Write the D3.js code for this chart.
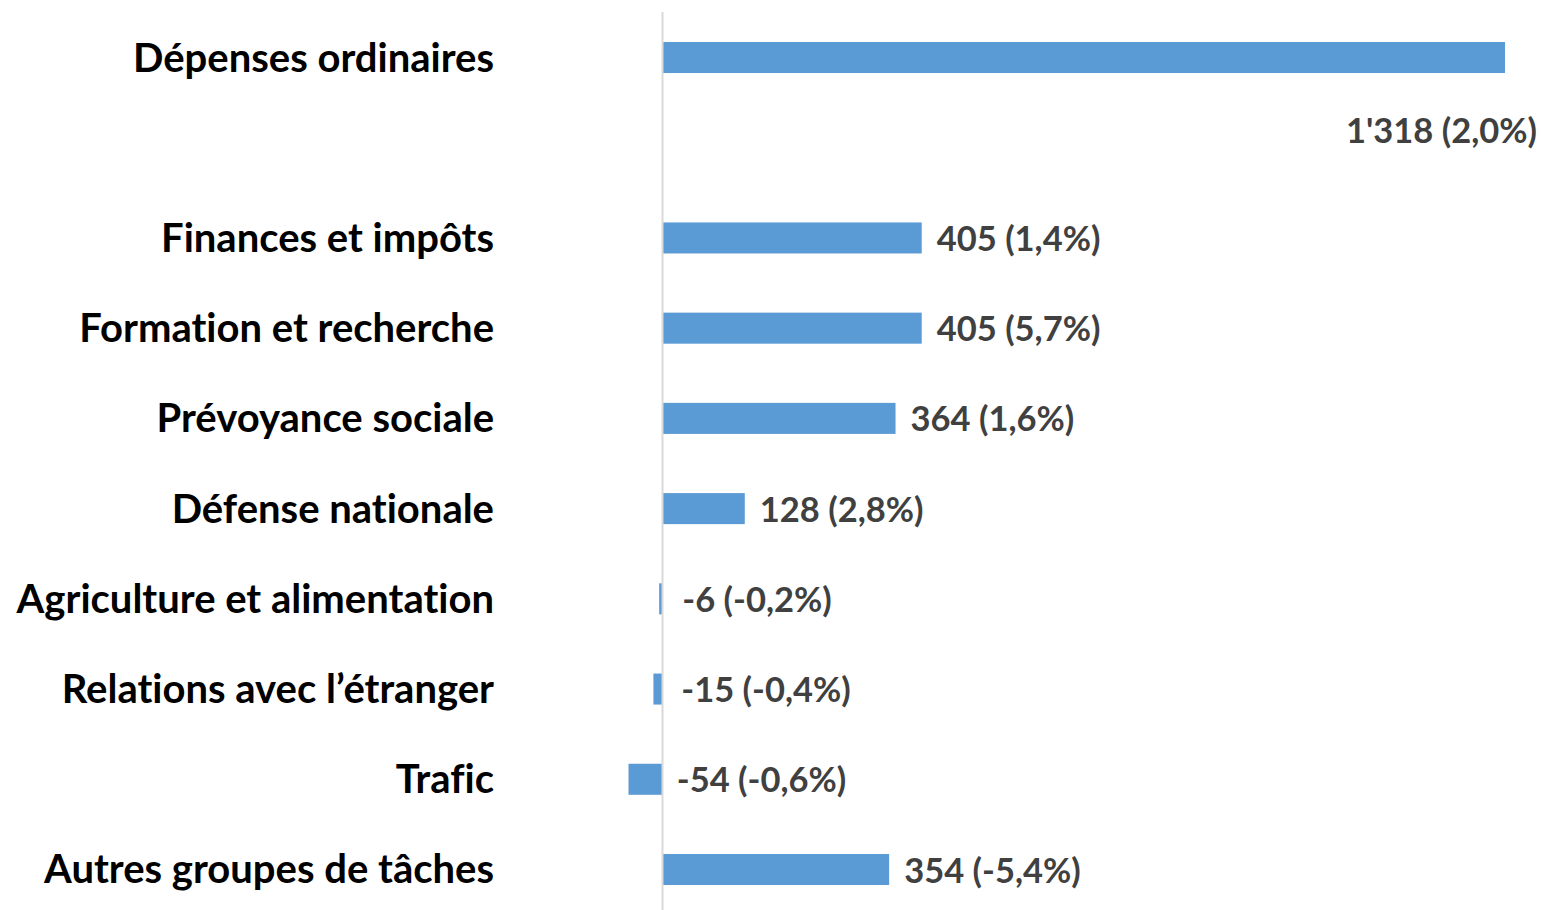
<!DOCTYPE html>
<html>
<head>
<meta charset="utf-8">
<script src="https://cdn.jsdelivr.net/npm/d3@7"></script>
<style>
  html, body { margin: 0; padding: 0; background: #fff; }
  svg { display: block; }
  text { font-variant-ligatures: none; font-feature-settings: "liga" 0; }
</style>
</head>
<body>
<svg id="chart" width="1541" height="910"></svg>
<script>
const categories = [
  "Dépenses ordinaires",
  "Finances et impôts",
  "Formation et recherche",
  "Prévoyance sociale",
  "Défense nationale",
  "Agriculture et alimentation",
  "Relations avec l’étranger",
  "Trafic",
  "Autres groupes de tâches"
];
const values = [1318, 405, 405, 364, 128, -6, -15, -54, 354];
const labels = ["1'318 (2,0%)", "405 (1,4%)", "405 (5,7%)", "364 (1,6%)", "128 (2,8%)",
                "-6 (-0,2%)", "-15 (-0,4%)", "-54 (-0,6%)", "354 (-5,4%)"];

const svg = d3.select("#chart");
const GAP = "__gap__";
const domain = [categories[0], GAP, ...categories.slice(1)];

const y = d3.scaleBand().domain(domain).range([12.4, 914.6]).paddingInner(0.656).paddingOuter(0.328);
const x = d3.scaleLinear().domain([0, 1318]).range([663, 1505]);

const data = categories.map((c, i) => ({ c, v: values[i], l: labels[i] }));

// bars
svg.append("g").selectAll("rect").data(data).enter().append("rect")
  .attr("x", d => d.v >= 0 ? x(0) : x(d.v))
  .attr("y", d => y(d.c))
  .attr("width", d => Math.abs(x(d.v) - x(0)))
  .attr("height", y.bandwidth())
  .attr("fill", "#5b9bd5");

// axis line
svg.append("line")
  .attr("x1", x(0) - 0.5).attr("x2", x(0) - 0.5)
  .attr("y1", 12).attr("y2", 910)
  .attr("stroke", "#d9d9d9").attr("stroke-width", 2);

const font = "Lato, 'Open Sans', sans-serif";

// category labels
svg.append("g").selectAll("text").data(data).enter().append("text")
  .attr("x", 494)
  .attr("y", d => y(d.c) + y.bandwidth() / 2)
  .attr("dy", "0.35em")
  .attr("text-anchor", "end")
  .attr("font-family", font)
  .attr("font-weight", 700)
  .attr("font-size", 40)
  .attr("fill", "#000")
  .text(d => d.c);

// value labels
svg.append("g").selectAll("text").data(data).enter().append("text")
  .attr("x", (d, i) => i === 0 ? 1537 : (d.v >= 0 ? x(d.v) + 15 : x(0) + 20 - (x(0) - x(d.v)) * 0.18))
  .attr("y", (d, i) => y(d.c) + y.bandwidth() / 2 + (i === 0 ? 73 : 1))
  .attr("dy", "0.35em")
  .attr("text-anchor", (d, i) => i === 0 ? "end" : "start")
  .attr("font-family", font)
  .attr("font-weight", 700)
  .attr("font-size", 34.5)
  .attr("fill", "#404040")
  .text(d => d.l);
</script>
</body>
</html>
